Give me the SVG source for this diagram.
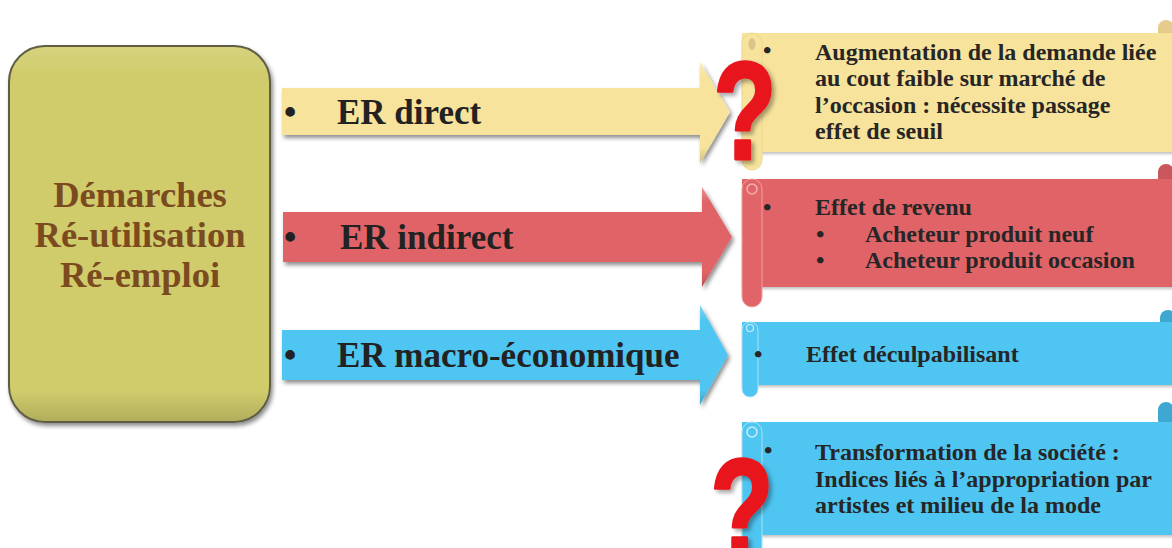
<svg xmlns="http://www.w3.org/2000/svg" width="1172" height="548" viewBox="0 0 1172 548">
  <defs>
    <style>
      .serif { font-family: "Liberation Serif", "Times New Roman", serif; font-weight: bold; }
      .label { font-size: 35px; fill: #222222; }
      .item { font-size: 24px; fill: #262626; }
      .title { font-size: 36.5px; fill: #7B4A1F; text-anchor: middle; }
      .qmark { font-family: "Liberation Sans", Arial, sans-serif; font-weight: bold; font-size: 140px; fill: #E8141B; stroke: #E8141B; stroke-width: 3px; stroke-linejoin: round; text-anchor: middle; }
      .yel { fill: #F7E39C; }
      .red { fill: #E06468; }
      .blu { fill: #4FC5F1; }
    </style>
    <filter id="shadow" x="-10%" y="-20%" width="130%" height="150%">
      <feDropShadow dx="2" dy="3" stdDeviation="2" flood-color="#000" flood-opacity="0.45"/>
    </filter>
    <filter id="softshadow" x="-10%" y="-20%" width="130%" height="150%">
      <feDropShadow dx="1" dy="2" stdDeviation="1.5" flood-color="#000" flood-opacity="0.25"/>
    </filter>
    <filter id="qshadow" x="-30%" y="-20%" width="160%" height="140%">
      <feDropShadow dx="3" dy="3" stdDeviation="2" flood-color="#000" flood-opacity="0.35"/>
    </filter>
    <linearGradient id="bevel" x1="0" y1="0" x2="0" y2="1">
      <stop offset="0" stop-color="#fff" stop-opacity="0.3"/>
      <stop offset="0.15" stop-color="#fff" stop-opacity="0"/>
      <stop offset="0.85" stop-color="#000" stop-opacity="0"/>
      <stop offset="1" stop-color="#000" stop-opacity="0.18"/>
    </linearGradient>
    <linearGradient id="boxbevel" x1="0" y1="0" x2="0" y2="1">
      <stop offset="0" stop-color="#fff" stop-opacity="0.12"/>
      <stop offset="0.08" stop-color="#fff" stop-opacity="0"/>
      <stop offset="0.92" stop-color="#000" stop-opacity="0"/>
      <stop offset="1" stop-color="#000" stop-opacity="0.15"/>
    </linearGradient>
  </defs>

  <rect width="1172" height="548" fill="#ffffff"/>

  <!-- main box -->
  <g id="node-demarches">
    <rect x="9" y="46" width="261" height="376" rx="36" fill="#D0CC6C" stroke="#5e5d44" stroke-width="2" filter="url(#shadow)"/>
    <rect x="10" y="47" width="259" height="374" rx="35" fill="url(#boxbevel)"/>
    <text class="serif title" x="140" y="207">Démarches</text>
    <text class="serif title" x="140" y="247">Ré-utilisation</text>
    <text class="serif title" x="140" y="287">Ré-emploi</text>
  </g>

  <!-- arrows -->
  <g id="connectors">
    <g id="arrow-direct">
      <polygon class="yel" points="282,88 700,88 700,62 730,112 700,163 700,135 282,135" filter="url(#shadow)"/>
      <polygon points="282,88 700,88 700,62 730,112 700,163 700,135 282,135" fill="url(#bevel)"/>
      <text class="serif label" x="284" y="124">•</text>
      <text class="serif label" x="337" y="124">ER direct</text>
    </g>
    <g id="arrow-indirect">
      <polygon class="red" points="283,212 702,212 702,187 732,237 702,287 702,262 283,262" filter="url(#shadow)"/>
      <polygon points="283,212 702,212 702,187 732,237 702,287 702,262 283,262" fill="url(#bevel)"/>
      <text class="serif label" x="284" y="249">•</text>
      <text class="serif label" x="340" y="249">ER indirect</text>
    </g>
    <g id="arrow-macro">
      <polygon class="blu" points="282,330 700,330 700,305 728,355 700,405 700,380 282,380" filter="url(#shadow)"/>
      <polygon points="282,330 700,330 700,305 728,355 700,405 700,380 282,380" fill="url(#bevel)"/>
      <text class="serif label" x="284" y="367">•</text>
      <text class="serif label" x="337" y="367">ER macro-économique</text>
    </g>
  </g>

  <!-- scroll 1: direct effect -->
  <g id="node-direct">
    <rect x="1158" y="20" width="16" height="22" rx="8" fill="#E6CC8A"/>
    <rect class="yel" x="742" y="33" width="440" height="119" filter="url(#softshadow)"/>
    <rect class="yel" x="742" y="33" width="20" height="137" rx="10" stroke="#efd88f" stroke-width="1"/>
    <ellipse cx="752" cy="44" rx="3.5" ry="6" fill="#DCC486"/>
    <text class="serif item" x="763" y="58">•</text>
    <text class="serif item" x="815" y="60">Augmentation de la demande liée</text>
    <text class="serif item" x="815" y="86">au cout faible sur marché de</text>
    <text class="serif item" x="815" y="113">l’occasion : nécessite passage</text>
    <text class="serif item" x="815" y="139">effet de seuil</text>
  </g>

  <!-- scroll 2: indirect effect -->
  <g id="node-indirect">
    <rect x="1158" y="164" width="16" height="24" rx="8" fill="#C9575B"/>
    <rect class="red" x="742" y="179" width="440" height="108" filter="url(#softshadow)"/>
    <rect class="red" x="742" y="179" width="20" height="128" rx="10" stroke="#f0a0a0" stroke-width="1"/>
    <circle cx="752" cy="189" r="5" fill="none" stroke="#f2b0b0" stroke-width="1.5"/>
    <text class="serif item" x="763" y="215">•</text>
    <text class="serif item" x="815" y="215">Effet de revenu</text>
    <text class="serif item" x="816" y="242">•</text>
    <text class="serif item" x="865" y="242">Acheteur produit neuf</text>
    <text class="serif item" x="816" y="268">•</text>
    <text class="serif item" x="865" y="268">Acheteur produit occasion</text>
  </g>

  <!-- scroll 3: macro effect -->
  <g id="node-macro">
    <rect x="1160" y="310" width="16" height="20" rx="8" fill="#3FA8D2"/>
    <rect class="blu" x="742" y="322" width="440" height="63" filter="url(#softshadow)"/>
    <rect class="blu" x="742" y="322" width="16" height="75" rx="8" stroke="#a8e2f8" stroke-width="1"/>
    <circle cx="750" cy="328" r="3.5" fill="none" stroke="#c8eefc" stroke-width="1.2"/>
    <text class="serif item" x="754" y="362">•</text>
    <text class="serif item" x="806" y="362">Effet déculpabilisant</text>
  </g>

  <!-- scroll 4: society -->
  <g id="node-society">
    <rect x="1158" y="402" width="16" height="26" rx="8" fill="#3FA8D2"/>
    <rect class="blu" x="742" y="422" width="440" height="113" filter="url(#softshadow)"/>
    <rect class="blu" x="742" y="422" width="20" height="140" rx="10" stroke="#a8e2f8" stroke-width="1"/>
    <circle cx="752" cy="432" r="5" fill="none" stroke="#c8eefc" stroke-width="1.5"/>
    <text class="serif item" x="764" y="458">•</text>
    <text class="serif item" x="815" y="460">Transformation de la société :</text>
    <text class="serif item" x="815" y="487">Indices liés à l’appropriation par</text>
    <text class="serif item" x="815" y="513">artistes et milieu de la mode</text>
  </g>

  <!-- question marks -->
  <g id="question-1" filter="url(#qshadow)">
    <text class="qmark" transform="translate(745,159) scale(0.74,1)">?</text>
  </g>
  <g id="question-2" filter="url(#qshadow)">
    <text class="qmark" transform="translate(742,556) scale(0.74,1)">?</text>
  </g>
</svg>
